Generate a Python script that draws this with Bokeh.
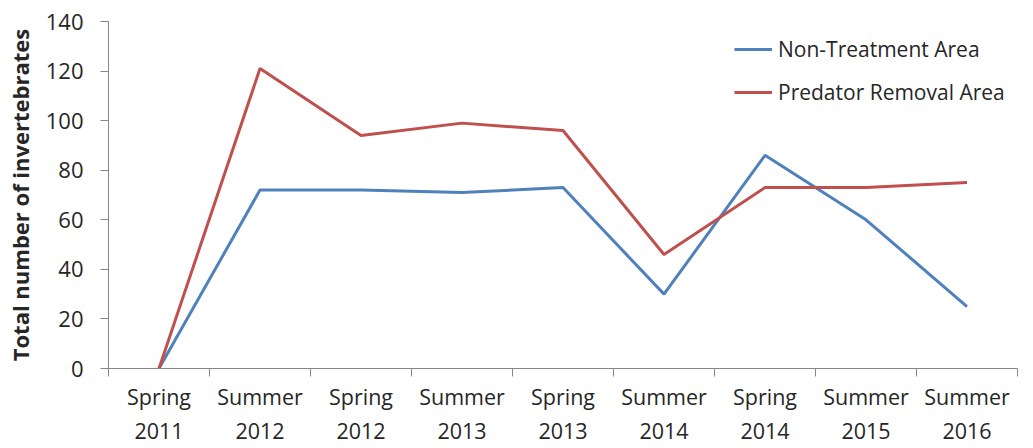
from bokeh.plotting import figure
from bokeh.models import FixedTicker, Range1d, Legend, LegendItem
from bokeh.embed import file_html
from bokeh.resources import INLINE

# Sampling seasons (x axis) and invertebrate counts per area
seasons = ["Spring\n2011", "Summer\n2012", "Spring\n2012", "Summer\n2013", "Spring\n2013",
           "Summer\n2014", "Spring\n2014", "Summer\n2015", "Summer\n2016"]
non_treatment = [0, 72, 72, 71, 73, 30, 86, 60, 25]
predator_removal = [0, 121, 94, 99, 96, 46, 73, 73, 75]
y_ticks = [0, 20, 40, 60, 80, 100, 120, 140]

FONT = "Open Sans"
AXIS_GREY = "#868686"
TEXT = "#262626"

x_pos = [i + 0.5 for i in range(len(seasons))]

p = figure(width=1033, height=448, output_backend="svg", toolbar_location=None,
           x_range=Range1d(0, len(seasons)), y_range=Range1d(0, 140),
           min_border_left=108, min_border_right=16, min_border_top=21, min_border_bottom=0)
p.outline_line_color = None
p.xgrid.visible = False
p.ygrid.visible = False

# x axis: labels centred in each category, tick marks on category boundaries
xa = p.xaxis[0]
xa.ticker = FixedTicker(ticks=x_pos, minor_ticks=list(range(len(seasons) + 1)))
xa.major_label_overrides = {x: s for x, s in zip(x_pos, seasons)}
xa.major_tick_out = 0
xa.major_tick_in = 0
xa.minor_tick_out = 8
xa.minor_tick_in = 0
xa.minor_tick_line_color = AXIS_GREY
xa.axis_line_color = AXIS_GREY
xa.major_label_text_font = FONT
xa.major_label_text_font_size = "21.5px"
xa.major_label_text_color = TEXT
xa.major_label_standoff = 5

ya = p.yaxis[0]
ya.ticker = FixedTicker(ticks=y_ticks)
ya.minor_tick_line_color = None
ya.major_tick_out = 8
ya.major_tick_in = 0
ya.major_tick_line_color = AXIS_GREY
ya.axis_line_color = AXIS_GREY
ya.major_label_text_font = FONT
ya.major_label_text_font_size = "22px"
ya.major_label_text_color = TEXT
ya.major_label_standoff = 17
ya.axis_label = "Total number of invertebrates"
ya.axis_label_text_font = FONT
ya.axis_label_text_font_size = "22px"
ya.axis_label_text_font_style = "bold"
ya.axis_label_text_color = TEXT
ya.axis_label_standoff = 8

r1 = p.line(x_pos, non_treatment, line_color="#4F81BD", line_width=3)
r2 = p.line(x_pos, predator_removal, line_color="#C0504D", line_width=3)

legend = Legend(items=[LegendItem(label="Non-Treatment Area", renderers=[r1]),
                       LegendItem(label="Predator Removal Area", renderers=[r2])],
                location=(626, 262), orientation="vertical",
                label_text_font=FONT, label_text_font_size="21px", label_text_color=TEXT,
                glyph_width=38, glyph_height=20, label_height=20, spacing=15,
                label_standoff=6, padding=0, margin=0,
                border_line_color=None, background_fill_alpha=0)
p.add_layout(legend)

open("out.html", "w").write(file_html(p, INLINE))
